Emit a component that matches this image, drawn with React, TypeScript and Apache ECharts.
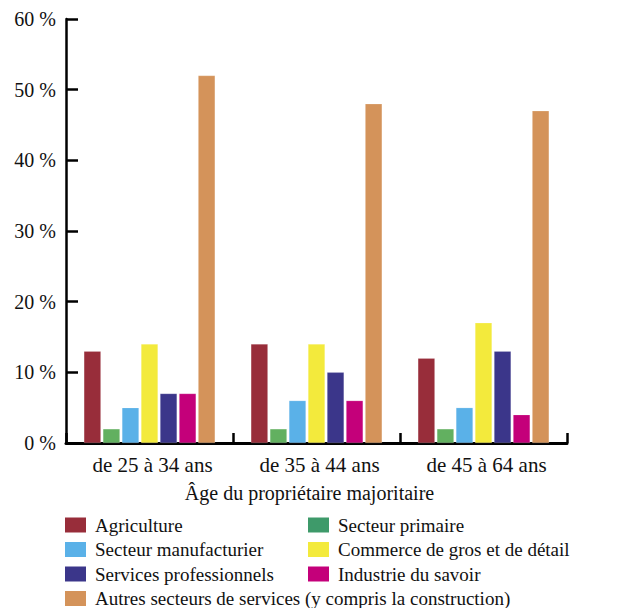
import React, { useEffect, useRef } from "react";
import * as echarts from "echarts";

// Age groups of the majority owner
const categories = ["de 25 à 34 ans", "de 35 à 44 ans", "de 45 à 64 ans"];

// Share of businesses (%) by sector, per age group
const agriculture = [13, 14, 12];
const secteurPrimaire = [2, 2, 2];
const manufacturier = [5, 6, 5];
const commerce = [14, 14, 17];
const servicesPro = [7, 10, 13];
const industrieSavoir = [7, 6, 4];
const autresServices = [52, 48, 47];

const yTicks = [0, 10, 20, 30, 40, 50, 60];

const seriesDefs = [
  { name: "Agriculture", data: agriculture, color: "#982d3a", legendColor: "#982d3a" },
  { name: "Secteur primaire", data: secteurPrimaire, color: "#62b060", legendColor: "#3e9a6a" },
  { name: "Secteur manufacturier", data: manufacturier, color: "#5ab1e8", legendColor: "#5ab1e8" },
  { name: "Commerce de gros et de détail", data: commerce, color: "#f3ea3c", legendColor: "#f3ea3c" },
  { name: "Services professionnels", data: servicesPro, color: "#3b368a", legendColor: "#3b368a" },
  { name: "Industrie du savoir", data: industrieSavoir, color: "#c4007a", legendColor: "#c4007a" },
  { name: "Autres secteurs de services (y compris la construction)", data: autresServices, color: "#d4935a", legendColor: "#d4935a" },
];

const FONT = "Liberation Serif";

// Two-column key below the chart: items fill rows left to right
const KEY_COL_X = [65, 308];
const KEY_TOP = 525;
const KEY_ROW = 24.5;

export default function App() {
  const ref = useRef<HTMLDivElement>(null);

  useEffect(() => {
    if (!ref.current) return;
    const chart = echarts.init(ref.current, null, { renderer: "svg" });

    const keyElements = seriesDefs.map((s, i) => {
      const col = i % 2;
      const row = Math.floor(i / 2);
      const x = KEY_COL_X[col];
      const cy = KEY_TOP + row * KEY_ROW;
      return {
        type: "group",
        children: [
          {
            type: "rect",
            shape: { x, y: cy - 7.5, width: 21, height: 15 },
            style: { fill: s.legendColor },
          },
          {
            type: "text",
            x: x + 30,
            y: cy,
            style: {
              text: s.name,
              fontFamily: FONT,
              fontSize: 19,
              fill: "#111",
              verticalAlign: "middle",
              align: "left",
            },
          },
        ],
      };
    });

    chart.setOption({
      animation: false,
      backgroundColor: "#ffffff",
      textStyle: { fontFamily: FONT },
      grid: { left: 66, right: 69, top: 19, bottom: 165, containLabel: false },
      graphic: keyElements,
      xAxis: {
        type: "category",
        data: categories,
        boundaryGap: true,
        name: "Âge du propriétaire majoritaire",
        nameLocation: "middle",
        nameGap: 40,
        nameTextStyle: {
          fontFamily: FONT,
          fontSize: 20,
          color: "#111",
          padding: [0, 14, 0, 0],
        },
        axisLine: { show: true, lineStyle: { color: "#000", width: 3 } },
        axisTick: { show: true, inside: true, length: 10, alignWithLabel: false, lineStyle: { color: "#000", width: 2.5 } },
        axisLabel: { fontFamily: FONT, fontSize: 21, color: "#111", margin: 11, padding: [0, 0, 0, 6] },
        splitLine: { show: false },
      },
      yAxis: {
        type: "value",
        min: yTicks[0],
        max: yTicks[yTicks.length - 1],
        interval: 10,
        axisLine: { show: true, lineStyle: { color: "#000", width: 2.5 } },
        axisTick: { show: true, inside: true, length: 12, lineStyle: { color: "#000", width: 2.5 } },
        axisLabel: {
          fontFamily: FONT,
          fontSize: 20,
          color: "#111",
          margin: 10,
          formatter: (v: number) => `${v} %`,
        },
        splitLine: { show: false },
      },
      series: seriesDefs.map((s) => ({
        name: s.name,
        type: "bar",
        data: s.data,
        barWidth: 17,
        barGap: "12%",
        itemStyle: { color: s.color, borderColor: "rgba(255,255,255,0.35)", borderWidth: 0.5 },
      })),
    });

    return () => chart.dispose();
  }, []);

  return (
    <div
      ref={ref}
      style={{ position: "absolute", left: 0, top: 0, width: 636, height: 608 }}
    />
  );
}
